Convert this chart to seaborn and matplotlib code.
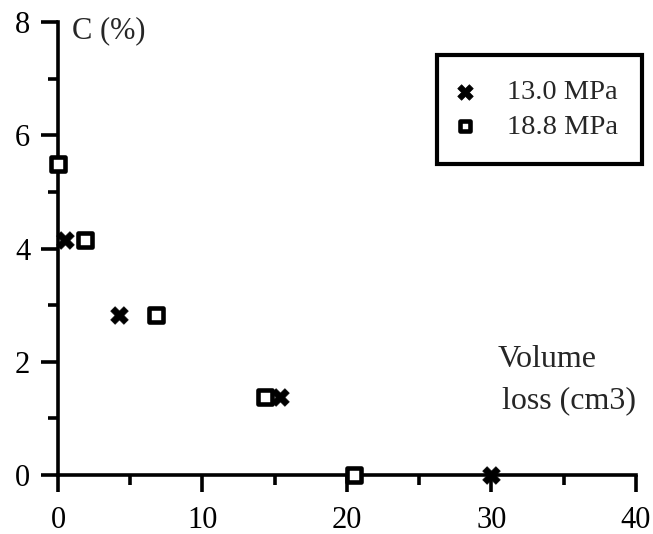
import matplotlib
matplotlib.use("Agg")
import matplotlib.pyplot as plt
from matplotlib.ticker import MultipleLocator
import seaborn as sns
import pandas as pd

series_names = ["13.0 MPa", "18.8 MPa"]
x_130 = [0.5, 4.2, 15.4, 30.0]
y_130 = [4.15, 2.83, 1.38, 0.0]
x_188 = [0.0, 1.9, 6.8, 14.3, 20.5]
y_188 = [5.5, 4.15, 2.83, 1.38, 0.0]
x_ticks = [0, 10, 20, 30, 40]
y_ticks = [0, 2, 4, 6, 8]

df = pd.DataFrame({
    "volume": x_130 + x_188,
    "C": y_130 + y_188,
    "series": [series_names[0]] * len(x_130) + [series_names[1]] * len(x_188),
})

sns.set_theme(style="ticks")
plt.rcParams["font.family"] = ["Liberation Serif", "DejaVu Serif"]

fig = plt.figure(figsize=(6.53, 5.34), dpi=100)
ax = fig.add_axes([0.0888, 0.1105, 0.885, 0.848])

sns.scatterplot(data=df[df.series == series_names[1]], x="volume", y="C",
                marker="s", s=105, facecolor="white", edgecolor="black",
                linewidth=3.3, ax=ax, label=series_names[1], clip_on=False, zorder=3)
sns.scatterplot(data=df[df.series == series_names[0]], x="volume", y="C",
                marker="X", s=160, color="black", edgecolor="black",
                linewidth=0.5, ax=ax, label=series_names[0], clip_on=False, zorder=4)

ax.set_xlim(0, 40)
ax.set_ylim(0, 8)
ax.set_xticks(x_ticks)
ax.set_yticks(y_ticks)
ax.xaxis.set_minor_locator(MultipleLocator(5))
ax.yaxis.set_minor_locator(MultipleLocator(1))
ax.set_xlabel("")
ax.set_ylabel("")
for s in ["top", "right"]:
    ax.spines[s].set_visible(False)
for s in ["left", "bottom"]:
    ax.spines[s].set_linewidth(2.6)
    ax.spines[s].set_color("black")
ax.tick_params(axis="both", which="major", length=12.5, width=2.6, labelsize=22,
               color="black", labelcolor="black")
ax.tick_params(axis="y", which="major", pad=7.5)
ax.tick_params(axis="x", which="major", pad=9.5)
ax.tick_params(axis="both", which="minor", length=7, width=2.6, color="black")

ax.text(0.97, 7.72, "C (%)", fontsize=22, ha="left", va="baseline")
ax.text(30.4, 1.91, "Volume", fontsize=23, ha="left", va="baseline")
ax.text(30.75, 1.18, "loss (cm3)", fontsize=23, ha="left", va="baseline")

handles, labels = ax.get_legend_handles_labels()
order = [labels.index(n) for n in series_names]
leg = ax.legend([handles[i] for i in order], [labels[i] for i in order],
                loc="upper right", bbox_to_anchor=(1.0104, 0.927),
                fontsize=20.5, frameon=True, fancybox=False, framealpha=1,
                handlelength=0.3, handletextpad=1.3, borderpad=0.85,
                labelspacing=0.3, borderaxespad=0)
leg.get_frame().set_edgecolor("black")
leg.get_frame().set_linewidth(3.0)
lh = leg.legend_handles
lh[0].set_sizes([125])
lh[1].set_sizes([45])
lh[1].set_linewidth(3.3)

fig.savefig("out.png", dpi=100)
